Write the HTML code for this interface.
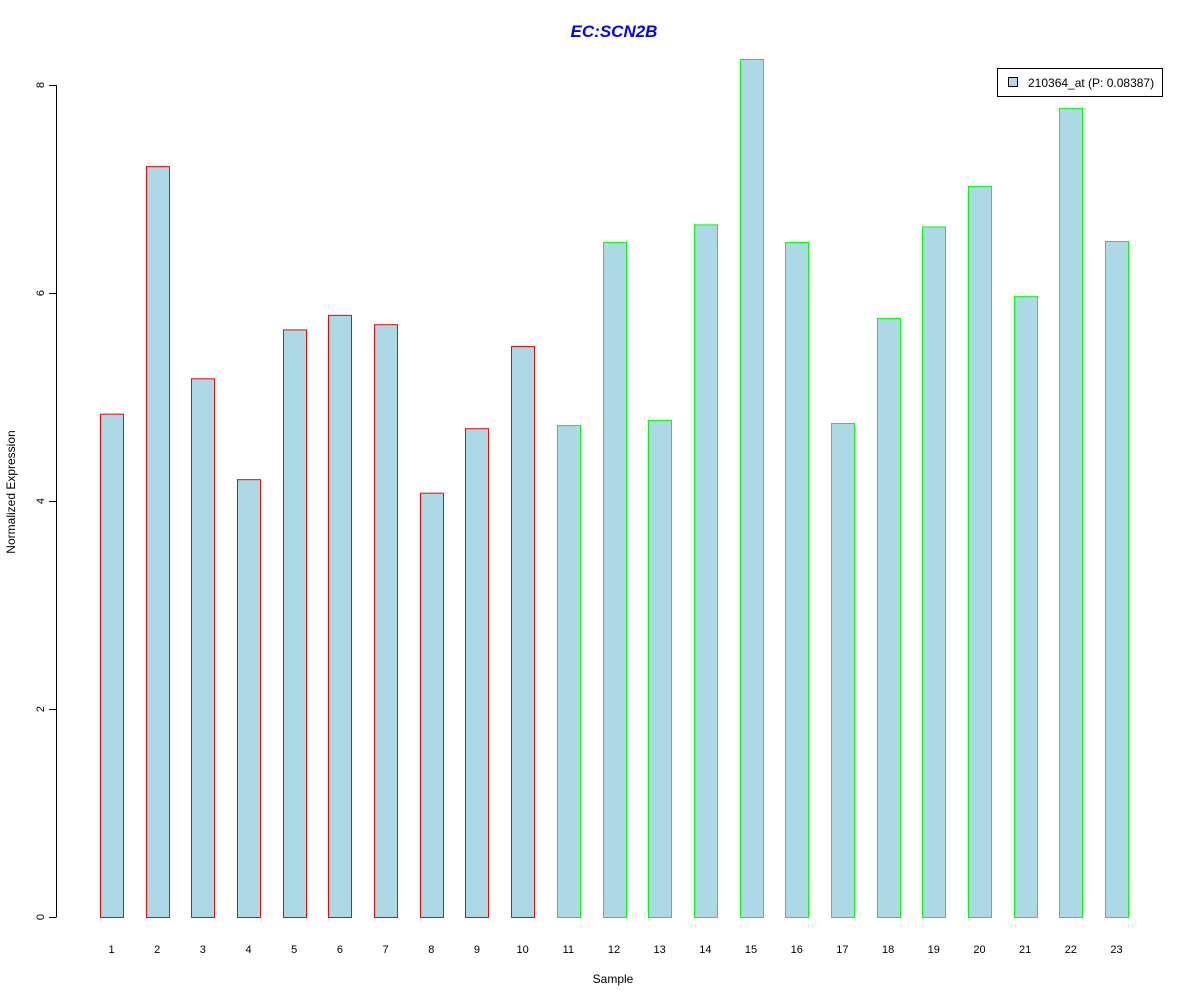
<!DOCTYPE html>
<html><head><meta charset="utf-8"><style>
body{margin:0;background:#fff}
svg text{font-family:"Liberation Sans",Arial,sans-serif}
</style></head><body>
<svg id="chart" width="1200" height="1000" xmlns="http://www.w3.org/2000/svg">
<rect width="1200" height="1000" fill="#fff"/>
<text x="614" y="37" text-anchor="middle" font-size="17" font-weight="bold" font-style="italic" fill="#0000ff">EC:SCN2B</text>
<text x="613" y="983" text-anchor="middle" font-size="12">Sample</text>
<text transform="translate(15,492) rotate(-90)" text-anchor="middle" font-size="12">Normalized Expression</text>
<g id="yaxis"></g>
<g id="bars"></g>
<g id="xlabels"></g>
<g>
<rect x="997.5" y="68.5" width="165" height="28" fill="#fff" stroke="#000"/>
<rect x="1008.5" y="77.5" width="9" height="9" fill="#add8e6" stroke="#000"/>
<text x="1028" y="87" font-size="12">210364_at (P: 0.08387)</text>
</g>
</svg>
<script>
const categories=["1","2","3","4","5","6","7","8","9","10","11","12","13","14","15","16","17","18","19","20","21","22","23"];
const values=[4.84,7.22,5.18,4.21,5.65,5.79,5.70,4.08,4.70,5.49,4.73,6.49,4.78,6.66,8.25,6.49,4.75,5.76,6.64,7.03,5.97,7.78,6.50];
const groups=["a","a","a","a","a","a","a","a","a","a","b","b","b","b","b","b","b","b","b","b","b","b","b"];
const yTicks=[0,2,4,6,8];
const NS="http://www.w3.org/2000/svg";
const y=v=>917-v*104;
const x=i=>111.5+i*(1005/22);
function mk(tag,attrs,parent){const e=document.createElementNS(NS,tag);for(const k in attrs)e.setAttribute(k,attrs[k]);parent.appendChild(e);return e;}
const ya=document.getElementById('yaxis');
let l=mk('line',{x1:56.5,x2:56.5,y1:y(8),y2:y(0),stroke:'#000'},ya);


yTicks.forEach(t=>{
 const tk=mk('line',{x1:49,x2:56.5,y1:y(t)+0.5,y2:y(t)+0.5,stroke:'#000'},ya);
 
 
 const tx=mk('text',{transform:`translate(44,${y(t)}) rotate(-90)`,'text-anchor':'middle','font-size':11},ya);
 tx.textContent=t;
 
 
});
const bg=document.getElementById('bars'),xl=document.getElementById('xlabels');
values.forEach((v,i)=>{
 const r=mk('rect',{x:Math.round(x(i)-11.5)+0.5,y:y(v)+0.5,width:23,height:v*104,fill:'#add8e6',stroke:groups[i]==='a'?'#ff0000':'#00ff00'},bg);
 
 
 const t=mk('text',{x:x(i),y:953,'text-anchor':'middle','font-size':11},xl);
 t.textContent=categories[i];
 
 
});
</script>
</body></html>
